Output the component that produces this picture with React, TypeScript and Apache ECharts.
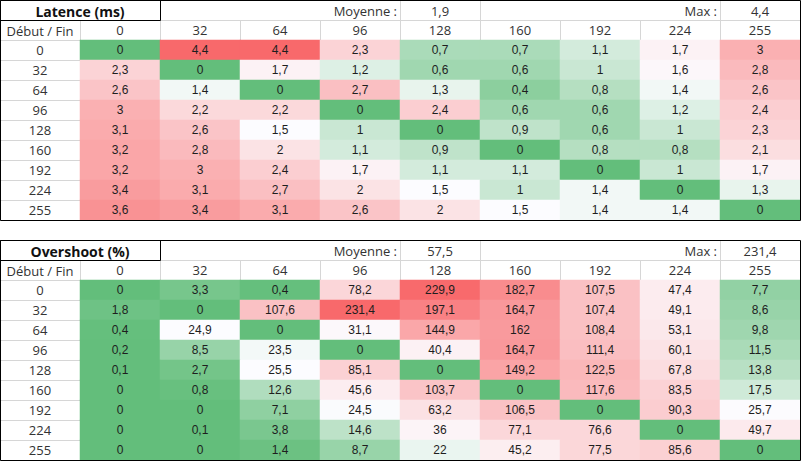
import React, { useEffect, useRef } from "react";
import * as echarts from "echarts";

const columns = ["0", "32", "64", "96", "128", "160", "192", "224", "255"];
const rowLabels = ["0", "32", "64", "96", "128", "160", "192", "224", "255"];

const latency = [
  [0, 4.4, 4.4, 2.3, 0.7, 0.7, 1.1, 1.7, 3],
  [2.3, 0, 1.7, 1.2, 0.6, 0.6, 1, 1.6, 2.8],
  [2.6, 1.4, 0, 2.7, 1.3, 0.4, 0.8, 1.4, 2.6],
  [3, 2.2, 2.2, 0, 2.4, 0.6, 0.6, 1.2, 2.4],
  [3.1, 2.6, 1.5, 1, 0, 0.9, 0.6, 1, 2.3],
  [3.2, 2.8, 2, 1.1, 0.9, 0, 0.8, 0.8, 2.1],
  [3.2, 3, 2.4, 1.7, 1.1, 1.1, 0, 1, 1.7],
  [3.4, 3.1, 2.7, 2, 1.5, 1, 1.4, 0, 1.3],
  [3.6, 3.4, 3.1, 2.6, 2, 1.5, 1.4, 1.4, 0],
];

const overshoot = [
  [0, 3.3, 0.4, 78.2, 229.9, 182.7, 107.5, 47.4, 7.7],
  [1.8, 0, 107.6, 231.4, 197.1, 164.7, 107.4, 49.1, 8.6],
  [0.4, 24.9, 0, 31.1, 144.9, 162, 108.4, 53.1, 9.8],
  [0.2, 8.5, 23.5, 0, 40.4, 164.7, 111.4, 60.1, 11.5],
  [0.1, 2.7, 25.5, 85.1, 0, 149.2, 122.5, 67.8, 13.8],
  [0, 0.8, 12.6, 45.6, 103.7, 0, 117.6, 83.5, 17.5],
  [0, 0, 7.1, 24.5, 63.2, 106.5, 0, 90.3, 25.7],
  [0, 0.1, 3.8, 14.6, 36, 77.1, 76.6, 0, 49.7],
  [0, 0, 1.4, 8.7, 22, 45.2, 77.5, 85.6, 0],
];

const tableTitles = ["Latence (ms)", "Overshoot (%)"];
const tableMeans = [1.9, 57.5];
const tableMaxes = [4.4, 231.4];
const cornerLabel = "Début / Fin";
const meanLabel = "Moyenne :";
const maxLabel = "Max :";

const SCALE_COLORS = ["#63BE7B", "#FCFCFF", "#F8696B"];

function fmt(v: number) {
  return String(v).replace(".", ",");
}

function percentile50(vals: number[]) {
  const s = [...vals].sort((a, b) => a - b);
  const r = (s.length - 1) * 0.5;
  const lo = Math.floor(r);
  const hi = Math.ceil(r);
  return s[lo] + (s[hi] - s[lo]) * (r - lo);
}

// [col, row, value, scalePosition(0..1, median at 0.5)]
function buildData(matrix: number[][]) {
  const flat = matrix.flat();
  const min = Math.min(...flat);
  const max = Math.max(...flat);
  const mid = percentile50(flat);
  const out: any[] = [];
  matrix.forEach((row, ri) => {
    row.forEach((v, ci) => {
      const pos =
        v <= mid
          ? mid === min
            ? 0
            : 0.5 * ((v - min) / (mid - min))
          : 0.5 + 0.5 * ((v - mid) / (max - mid));
      out.push([ci, ri, v, pos]);
    });
  });
  return out;
}

const TOPS = [0, 240];
const HEADER_FONT = "'Open Sans', 'Noto Sans', sans-serif";
const GRID_LINE = "#d6d6d6";

export default function App() {
  const ref = useRef<HTMLDivElement>(null);

  useEffect(() => {
    if (!ref.current) return;
    const chart = echarts.init(ref.current, undefined, { renderer: "svg" });
    const matrices = [latency, overshoot];

    const grids = TOPS.map((t) => ({ left: 80, top: t + 40, width: 720, height: 180 }));
    const xAxes = TOPS.map((_, i) => ({
      type: "category",
      gridIndex: i,
      data: columns,
      position: "top",
      axisLine: { show: true, lineStyle: { color: GRID_LINE, width: 1 } },
      axisTick: { show: true, length: 20, inside: false, lineStyle: { color: GRID_LINE, width: 1 } },
      axisLabel: {
        margin: 10,
        verticalAlign: "middle",
        fontFamily: HEADER_FONT,
        fontSize: 13,
        color: "#333",
        interval: 0,
      },
      splitLine: { show: false },
    }));
    const yAxes = TOPS.map((_, i) => ({
      type: "category",
      gridIndex: i,
      data: rowLabels,
      inverse: true,
      axisLine: { show: true, lineStyle: { color: GRID_LINE, width: 1 } },
      axisTick: { show: true, length: 80, inside: false, lineStyle: { color: GRID_LINE, width: 1 } },
      axisLabel: {
        margin: 40,
        align: "center",
        verticalAlign: "middle",
        fontFamily: HEADER_FONT,
        fontSize: 13,
        color: "#333",
        interval: 0,
      },
      splitLine: { show: false },
    }));

    const series = matrices.map((m, i) => ({
      type: "heatmap",
      xAxisIndex: i,
      yAxisIndex: i,
      data: buildData(m),
      label: {
        show: true,
        formatter: (p: any) => fmt(p.value[2]),
        fontFamily: "'Liberation Sans', Arial, sans-serif",
        fontSize: 12,
        color: "#1e1e1e",
      },
      emphasis: { disabled: true },
    }));

    const visualMap = matrices.map((_, i) => ({
      type: "continuous",
      show: false,
      seriesIndex: i,
      dimension: 3,
      min: 0,
      max: 1,
      inRange: { color: SCALE_COLORS },
    }));

    const graphic: any[] = [];
    TOPS.forEach((t, i) => {
      graphic.push({
        type: "line",
        shape: { x1: 160, y1: t + 20.5, x2: 800, y2: t + 20.5 },
        style: { stroke: GRID_LINE, lineWidth: 1 },
        z: 90,
      });
      [400, 480, 720].forEach((x) =>
        graphic.push({
          type: "line",
          shape: { x1: x + 0.5, y1: t, x2: x + 0.5, y2: t + 20 },
          style: { stroke: GRID_LINE, lineWidth: 1 },
          z: 90,
        })
      );
      graphic.push({
        type: "rect",
        shape: { x: 0.5, y: t + 0.5, width: 800, height: 220 },
        style: { fill: "none", stroke: "#000", lineWidth: 1 },
        z: 100,
      });
      graphic.push({
        type: "rect",
        shape: { x: 0.5, y: t + 0.5, width: 160, height: 20 },
        style: { fill: "none", stroke: "#000", lineWidth: 1 },
        z: 100,
      });
      graphic.push({
        type: "text",
        x: 80,
        y: t + 11,
        style: {
          text: tableTitles[i],
          fontFamily: HEADER_FONT,
          fontWeight: "bold",
          fontSize: 14,
          fill: "#111",
          align: "center",
          verticalAlign: "middle",
        },
        z: 100,
      });
      const txt = (text: string, x: number, y: number, align: string) => ({
        type: "text",
        x,
        y,
        style: {
          text,
          fontFamily: HEADER_FONT,
          fontSize: 13,
          fill: "#333",
          align,
          verticalAlign: "middle",
        },
        z: 100,
      });
      graphic.push(txt(meanLabel, 397, t + 10.5, "right"));
      graphic.push(txt(fmt(tableMeans[i]), 440, t + 10.5, "center"));
      graphic.push(txt(maxLabel, 717, t + 10.5, "right"));
      graphic.push(txt(fmt(tableMaxes[i]), 760, t + 10.5, "center"));
      graphic.push(txt(cornerLabel, 40, t + 30.5, "center"));
    });

    chart.setOption({
      animation: false,
      backgroundColor: "#fff",
      grid: grids,
      xAxis: xAxes,
      yAxis: yAxes,
      visualMap,
      series,
      graphic,
    } as any);

    return () => chart.dispose();
  }, []);

  return (
    <div
      ref={ref}
      style={{ position: "absolute", left: 0, top: 0, width: 801, height: 461 }}
    />
  );
}
